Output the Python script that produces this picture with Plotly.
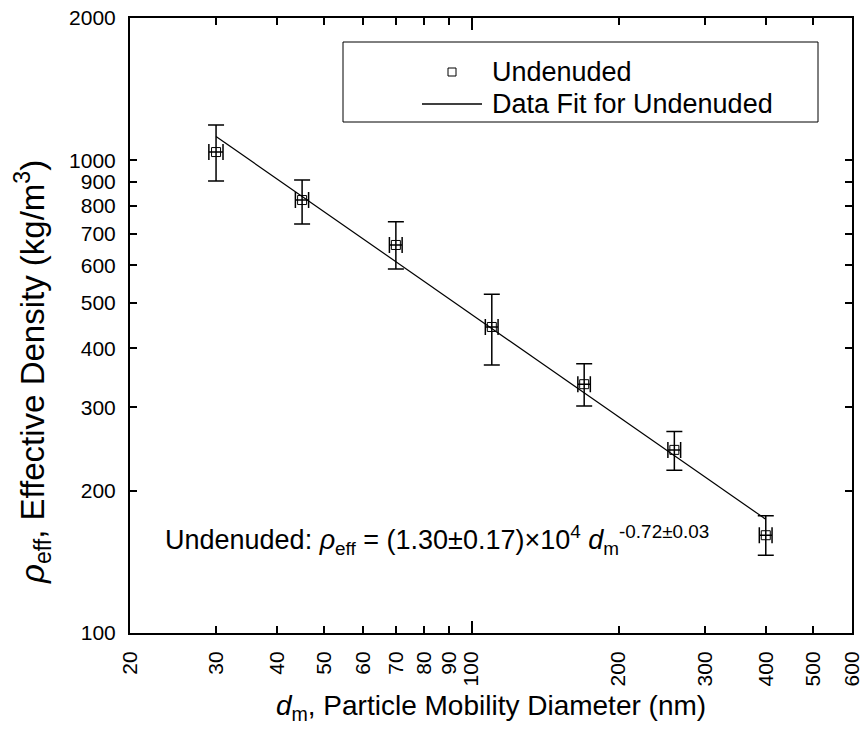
import plotly.graph_objects as go

# ---- data ----
d_m = [30, 45, 70, 110, 170, 260, 400]
rho_eff = [1041, 824, 662, 444, 336, 244, 161]
rho_err_plus = [147, 84, 79, 77, 35, 23, 16]
rho_err_minus = [137, 91, 73, 75, 34, 23, 15]
d_err = [1.0, 1.4, 2.1, 3.3, 5.0, 7.8, 12.0]

fit_d = [30, 400]
fit_rho = [1123, 174]

x_ticks = [20, 30, 40, 50, 60, 70, 80, 90, 100, 200, 300, 400, 500, 600]
y_ticks = [100, 200, 300, 400, 500, 600, 700, 800, 900, 1000, 2000]

FONT = "Liberation Sans, Arial, sans-serif"

# plot-area geometry (pixels) used to place the hand-made legend
W, H = 862, 732
L, R, T, B = 130, 10, 18, 99
PW, PH = W - L - R, H - T - B


def px(x):
    return (x - L) / PW


def py(y):
    return (H - B - y) / PH


fig = go.Figure()

fig.add_trace(go.Scatter(
    x=fit_d, y=fit_rho, mode="lines",
    line=dict(color="black", width=1.2),
    name="Data Fit for Undenuded", showlegend=False,
))

fig.add_trace(go.Scatter(
    x=d_m, y=rho_eff, mode="markers",
    marker=dict(symbol="square-open", size=9, color="black", line=dict(width=1)),
    error_y=dict(type="data", array=rho_err_plus, arrayminus=rho_err_minus,
                 color="black", thickness=1.5, width=8),
    error_x=dict(type="data", array=d_err, color="black", thickness=1.5, width=8),
    name="Undenuded", showlegend=False,
))

axis_common = dict(
    showline=True, linecolor="black", linewidth=2, mirror="ticks",
    ticks="inside", ticklen=7, tickwidth=1.5, tickcolor="black",
    showgrid=False, zeroline=False, ticklabeloverflow="allow",
    tickfont=dict(family=FONT, size=21, color="black"),
)

fig.update_xaxes(
    type="log", range=[1.30103, 2.7785],
    tickmode="array", tickvals=x_ticks, ticktext=[str(v) for v in x_ticks],
    tickangle=-90, ticklabelstandoff=8,
    minor=dict(tickmode="array", tickvals=[100], ticklen=12, tickwidth=1.5,
               tickcolor="black", ticks="inside", showgrid=False),
    title=dict(text="<i>d</i><sub>m</sub>, Particle Mobility Diameter (nm)",
               font=dict(family=FONT, size=28, color="black"), standoff=10),
    **axis_common,
)
fig.update_yaxes(
    type="log", range=[2, 3.30103],
    tickmode="array", tickvals=y_ticks, ticktext=[str(v) for v in y_ticks],
    ticklabelstandoff=8,
    **axis_common,
)

# hand-made legend
shapes = [
    dict(type="rect", xref="paper", yref="paper",
         x0=px(343), x1=px(818), y0=py(122), y1=py(42),
         line=dict(color="black", width=1), fillcolor="white", layer="below"),
    dict(type="rect", xref="paper", yref="paper",
         x0=px(448), x1=px(456), y0=py(76), y1=py(68),
         line=dict(color="black", width=1)),
    dict(type="line", xref="paper", yref="paper",
         x0=px(422), x1=px(482), y0=py(104), y1=py(104),
         line=dict(color="black", width=1.5)),
]

annotations = [
    dict(text="Undenuded", x=px(490), y=py(72), xref="paper", yref="paper",
         xanchor="left", yanchor="middle", showarrow=False,
         font=dict(family=FONT, size=27, color="black")),
    dict(text="Data Fit for Undenuded", x=px(490), y=py(104), xref="paper", yref="paper",
         xanchor="left", yanchor="middle", showarrow=False,
         font=dict(family=FONT, size=27, color="black")),
    dict(text="Undenuded: <i>ρ</i><sub>eff</sub> = (1.30±0.17)×10<sup>4</sup> "
              "<i>d</i><sub>m</sub><sup>-0.72±0.03</sup>",
         x=px(163), y=py(540), xref="paper", yref="paper",
         xanchor="left", yanchor="middle", showarrow=False,
         font=dict(family=FONT, size=27, color="black")),
    # y-axis title
    dict(text="<i>ρ</i><sub>eff</sub>, Effective Density (kg/m<sup>3</sup>)",
         x=px(32), y=py(372), xref="paper", yref="paper",
         xanchor="center", yanchor="middle", showarrow=False, textangle=-90,
         font=dict(family=FONT, size=33, color="black")),
]

fig.update_layout(
    width=W, height=H,
    margin=dict(l=L, r=R, t=T, b=B, autoexpand=False),
    paper_bgcolor="white", plot_bgcolor="white",
    shapes=shapes, annotations=annotations,
    showlegend=False,
)

fig.write_html("out.html")
